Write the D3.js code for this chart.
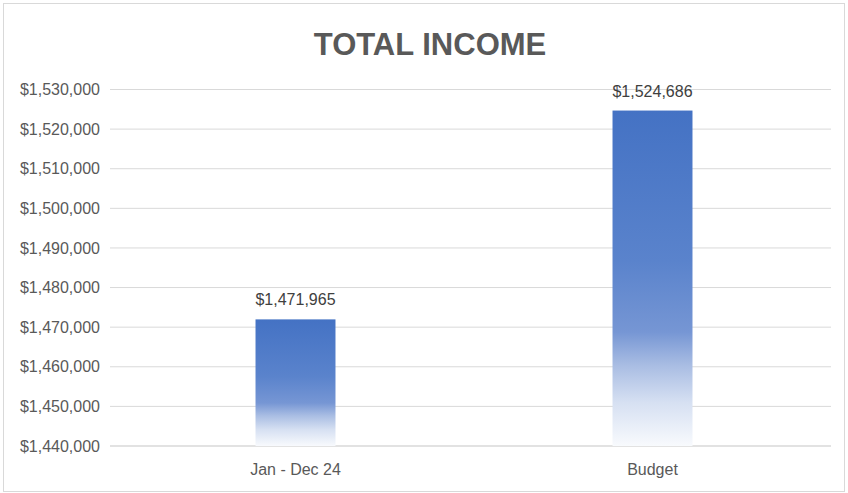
<!DOCTYPE html>
<html>
<head>
<meta charset="utf-8">
<script src="https://cdn.jsdelivr.net/npm/d3@7"></script>
<style>
  body { margin: 0; background: #fff; }
  text { font-family: "Liberation Sans", Arial, sans-serif; }
</style>
</head>
<body>
<div id="chart"></div>
<script>
// chart data
const categories = ["Jan - Dec 24", "Budget"];
const values = [1471965, 1524686];
const yTicks = [1440000, 1450000, 1460000, 1470000, 1480000, 1490000, 1500000, 1510000, 1520000, 1530000];

const W = 848, H = 493;
const margin = {top: 89.5, right: 17, bottom: 47, left: 117};
const width = W - margin.left - margin.right;
const height = H - margin.top - margin.bottom;

const svg = d3.select("#chart").append("svg")
    .attr("width", W)
    .attr("height", H);

// outer border
svg.append("rect")
    .attr("x", 3.5).attr("y", 3.5)
    .attr("width", W - 7).attr("height", H - 5)
    .attr("fill", "#fff")
    .attr("stroke", "#d9d9d9");

// gradient for bars
let grad = svg.append("defs").append("linearGradient")
    .attr("id", "barGrad")
    .attr("x1", 0).attr("y1", 0).attr("x2", 0).attr("y2", 1);
[[0, "#4472C4"], [0.45, "#5A83CC"], [0.66, "#7696D4"], [0.76, "#A9BDE3"], [0.87, "#D6E0F2"], [1, "#F8FAFD"]]
    .forEach(s => grad.append("stop").attr("offset", s[0]).attr("stop-color", s[1]));

const g = svg.append("g")
    .attr("transform", `translate(${margin.left},${margin.top})`);

// title
svg.append("text")
    .attr("x", 430).attr("y", 55)
    .attr("text-anchor", "middle")
    .attr("font-size", 31)
    .attr("font-weight", "bold")
    .attr("fill", "#595959")
    .text("TOTAL INCOME");

// scales
const x = d3.scaleBand()
    .domain(categories)
    .range([0, width])
    .paddingInner(0.776)
    .paddingOuter(0.388);

const y = d3.scaleLinear()
    .domain([1440000, 1530000])
    .range([height, 0]);

const fmt = v => "$" + d3.format(",")(v);

// gridlines
g.selectAll(".grid")
    .data(yTicks)
    .enter().append("line")
    .attr("x1", -7).attr("x2", width)
    .attr("y1", d => y(d)).attr("y2", d => y(d))
    .attr("stroke", "#d9d9d9")
    .attr("stroke-width", d => d === 1440000 ? 1.5 : 1);

// y axis labels
const yAxis = d3.axisLeft(y).tickValues(yTicks).tickFormat(fmt).tickSize(0).tickPadding(17);
g.append("g")
    .call(yAxis)
    .call(a => a.select(".domain").remove())
    .call(a => a.selectAll("text")
        .attr("fill", "#595959")
        .attr("font-size", 16)
        .style("font-family", "'Liberation Sans', Arial, sans-serif"));

// x axis labels
const xAxis = d3.axisBottom(x).tickSize(0).tickPadding(18);
g.append("g")
    .attr("transform", `translate(0,${height})`)
    .call(xAxis)
    .call(a => a.select(".domain").remove())
    .call(a => a.selectAll("text")
        .attr("fill", "#595959")
        .attr("font-size", 16)
        .style("font-family", "'Liberation Sans', Arial, sans-serif"));

// bars
g.selectAll(".bar")
    .data(values)
    .enter().append("rect")
    .attr("x", (d, i) => x(categories[i]))
    .attr("y", d => y(d))
    .attr("width", x.bandwidth())
    .attr("height", d => height - y(d))
    .attr("fill", "url(#barGrad)");

// value labels
g.selectAll(".lbl")
    .data(values)
    .enter().append("text")
    .attr("x", (d, i) => x(categories[i]) + x.bandwidth() / 2)
    .attr("y", d => y(d) - 14)
    .attr("text-anchor", "middle")
    .attr("font-size", 16)
    .attr("fill", "#404040")
    .text(fmt);
</script>
</body>
</html>
